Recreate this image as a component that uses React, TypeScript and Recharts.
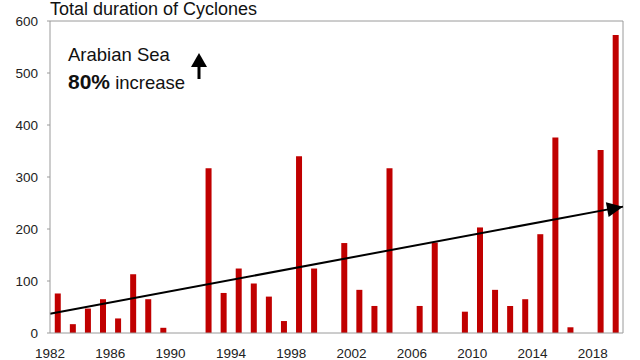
import { Bar, ComposedChart, Line, ReferenceLine, XAxis, YAxis } from 'recharts'

const YEARS = [
  1982, 1983, 1984, 1985, 1986, 1987, 1988, 1989, 1990, 1991, 1992, 1993, 1994,
  1995, 1996, 1997, 1998, 1999, 2000, 2001, 2002, 2003, 2004, 2005, 2006, 2007,
  2008, 2009, 2010, 2011, 2012, 2013, 2014, 2015, 2016, 2017, 2018, 2019,
]
const DURATION = [
  76, 17, 47, 65, 28, 113, 65, 10, 0, 0, 317, 77, 124,
  95, 70, 23, 340, 124, 0, 173, 83, 52, 317, 0, 52, 174,
  0, 41, 203, 83, 52, 65, 190, 376, 11, 0, 352, 573,
]
const X_TICKS = [1982, 1986, 1990, 1994, 1998, 2002, 2006, 2010, 2014, 2018]
const Y_TICKS = [0, 100, 200, 300, 400, 500, 600]
const TREND_YEARS = [1982, 2020]
const TREND_VALUES = [37, 243]

const FONT = '"Liberation Sans", Arial, Helvetica, sans-serif'
const BAR_RED = '#c00000'
const FRAME = '#9a9a9a'

// each bar sits in the middle of its year slot, labels sit on slot edges
const data = YEARS.map((y, i) => ({ pos: y + 0.5, value: DURATION[i] }))
const trend = TREND_YEARS.map((y, i) => ({ pos: y, trend: TREND_VALUES[i] }))

let firstPt: { x: number; y: number } | null = null

function ArrowDot(props: any) {
  const { cx, cy, index, points } = props
  if (index === 0) {
    firstPt = { x: cx, y: cy }
    return <g key="d0" />
  }
  const start = points?.[0] ?? firstPt ?? { x: cx - 100, y: cy + 18 }
  const ang = (Math.atan2(cy - start.y, cx - start.x) * 180) / Math.PI
  return (
    <g key="d1" transform={`translate(${cx},${cy}) rotate(${ang})`}>
      <polygon points="0,0 -16,-7.5 -16,7.5" fill="#000" />
    </g>
  )
}

export default function App() {
  return (
    <div
      style={{
        position: 'absolute',
        left: 0,
        top: 0,
        width: 640,
        height: 360,
        background: '#fff',
        fontFamily: FONT,
        overflow: 'hidden',
      }}
    >
      <div
        style={{
          position: 'absolute',
          left: 50,
          top: 0,
          fontSize: 18,
          lineHeight: '18px',
          color: '#111',
          whiteSpace: 'nowrap',
        }}
      >
        Total duration of Cyclones
      </div>
      <ComposedChart
        width={640}
        height={360}
        data={data}
        margin={{ top: 21, right: 17, left: 0, bottom: 0 }}
      >
        <XAxis
          dataKey="pos"
          type="number"
          domain={[1982, 2020]}
          ticks={X_TICKS}
          allowDecimals={false}
          tickLine={false}
          tickMargin={9}
          height={27}
          axisLine={{ stroke: FRAME }}
          tick={{ fontSize: 13.5, fill: '#222', fontFamily: FONT }}
          interval={0}
        />
        <YAxis
          domain={[0, 600]}
          ticks={Y_TICKS}
          width={50}
          tickSize={3}
          tickMargin={9}
          axisLine={{ stroke: FRAME }}
          tickLine={{ stroke: FRAME }}
          tick={{ fontSize: 13.5, fill: '#222', fontFamily: FONT }}
        />
        <ReferenceLine y={600} stroke={FRAME} />
        <ReferenceLine x={2020} stroke={FRAME} />
        <Bar dataKey="value" fill={BAR_RED} barSize={6} isAnimationActive={false} />
        <Line
          data={trend}
          dataKey="trend"
          stroke="#000"
          strokeWidth={2}
          dot={<ArrowDot />}
          activeDot={false}
          isAnimationActive={false}
          type="linear"
        />
      </ComposedChart>
      <div
        style={{
          position: 'absolute',
          left: 68,
          top: 41,
          fontSize: 18.5,
          lineHeight: '27px',
          color: '#111',
          whiteSpace: 'nowrap',
        }}
      >
        <div>Arabian Sea</div>
        <div>
          <b style={{ fontSize: 21 }}>80%</b> increase
        </div>
      </div>
      <svg style={{ position: 'absolute', left: 190, top: 52 }} width={18} height={28}>
        <polygon points="9,1 1,15 17,15" fill="#000" />
        <rect x={7.5} y={14} width={3} height={13} fill="#000" />
      </svg>
    </div>
  )
}
